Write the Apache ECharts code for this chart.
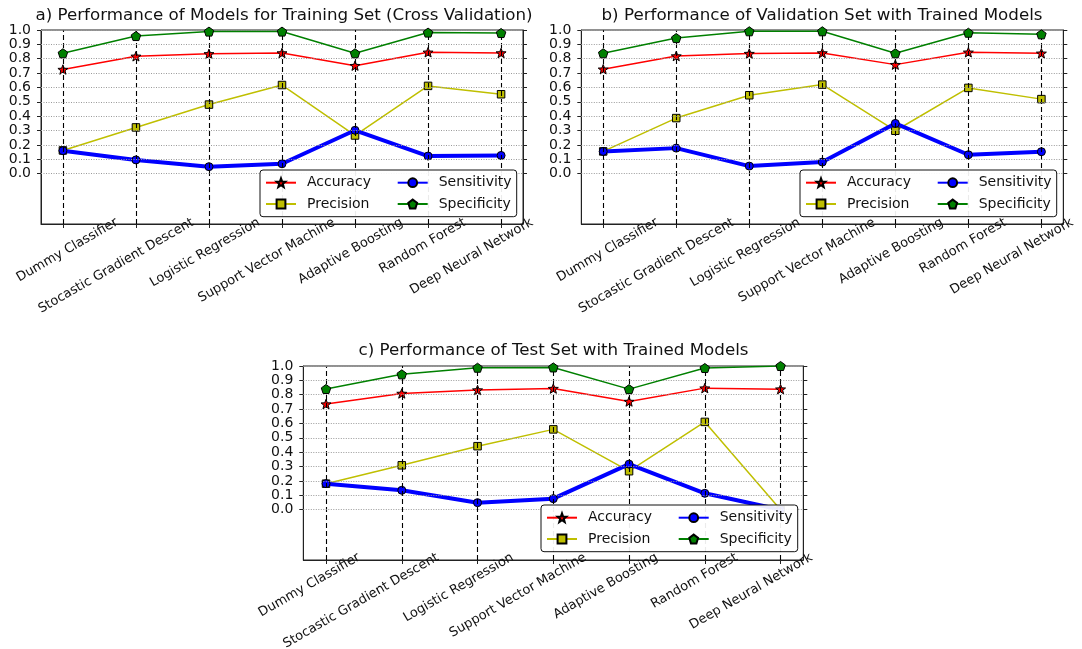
<!DOCTYPE html>
<html>
<head>
<meta charset="utf-8">
<script src="https://cdn.jsdelivr.net/npm/echarts@6/dist/echarts.min.js"></script>
<style>
  html, body { margin: 0; padding: 0; background: #fff; }
  #chart { width: 1082px; height: 649px; }
</style>
</head>
<body>
<div id="chart"></div>
<script>
// ---------------- DATA ----------------
const categories = ['Dummy Classifier', 'Stocastic Gradient Descent', 'Logistic Regression',
  'Support Vector Machine', 'Adaptive Boosting', 'Random Forest', 'Deep Neural Network'];
const seriesNames = ['Accuracy', 'Precision', 'Sensitivity', 'Specificity'];
const yTicks = [0.0, 0.1, 0.2, 0.3, 0.4, 0.5, 0.6, 0.7, 0.8, 0.9, 1.0];
const xTicks = [0, 1, 2, 3, 4, 5, 6];

const titleA = 'a) Performance of Models for Training Set (Cross Validation)';
const titleB = 'b) Performance of Validation Set with Trained Models';
const titleC = 'c) Performance of Test Set with Trained Models';

const trainAcc  = [0.725, 0.817, 0.834, 0.840, 0.752, 0.845, 0.840];
const trainPrec = [0.162, 0.322, 0.481, 0.617, 0.266, 0.611, 0.553];
const trainSens = [0.160, 0.096, 0.049, 0.069, 0.302, 0.123, 0.127];
const trainSpec = [0.838, 0.958, 0.989, 0.989, 0.838, 0.982, 0.979];

const valAcc  = [0.727, 0.819, 0.836, 0.840, 0.759, 0.845, 0.838];
const valPrec = [0.155, 0.387, 0.546, 0.620, 0.299, 0.597, 0.519];
const valSens = [0.155, 0.178, 0.053, 0.081, 0.350, 0.132, 0.153];
const valSpec = [0.838, 0.944, 0.991, 0.991, 0.838, 0.981, 0.970];

const testAcc  = [0.735, 0.809, 0.833, 0.843, 0.753, 0.846, 0.839];
const testPrec = [0.181, 0.309, 0.442, 0.559, 0.268, 0.611, 0.000];
const testSens = [0.181, 0.135, 0.049, 0.077, 0.317, 0.114, 0.000];
const testSpec = [0.840, 0.942, 0.988, 0.990, 0.839, 0.986, 1.000];

// ---------------- STYLE / LAYOUT ----------------
const FONT = 'DejaVu Sans';
const starPath = 'path://M0,-1 L0.247,-0.34 L0.951,-0.309 L0.399,0.13 L0.588,0.809 L0,0.42 L-0.588,0.809 L-0.399,0.13 L-0.951,-0.309 L-0.247,-0.34 Z';
const pentPath = 'path://M0,-1 L0.951,-0.309 L0.588,0.809 L-0.588,0.809 L-0.951,-0.309 Z';
const styles = {
  Accuracy:    { color: '#ff0000', width: 1.5, symbol: starPath, size: 10 },
  Precision:   { color: '#bfbf00', width: 1.5, symbol: 'rect',   size: 7.5 },
  Sensitivity: { color: '#0000ff', width: 4,   symbol: 'circle', size: 8 },
  Specificity: { color: '#008000', width: 1.5, symbol: pentPath, size: 9.5 }
};

// horizontal shift (px) of each tick label's end, right of its tick
const labelShiftAB = [54, 57, 50, 52, 47, 37, 31];
const labelShiftC  = [33, 36, 35, 32, 28, 32, 31];

const panels = [
  { title: titleA, values: [trainAcc, trainPrec, trainSens, trainSpec],
    grid: { left: 41, top: 30, width: 482, height: 194 },
    legend: { left: 260, top: 170 }, titleX: 279, titleTop: 2, shifts: labelShiftAB, margin: -2.5 },
  { title: titleB, values: [valAcc, valPrec, valSens, valSpec],
    grid: { left: 581.3, top: 30, width: 482, height: 194 },
    legend: { left: 800, top: 170 }, titleX: 817, titleTop: 2, shifts: labelShiftAB, margin: -2.5 },
  { title: titleC, values: [testAcc, testPrec, testSens, testSpec],
    grid: { left: 303.3, top: 366, width: 500, height: 194 },
    legend: { left: 541, top: 505 }, titleX: 548.5, titleTop: 337, shifts: labelShiftC, margin: -3.5 }
];

const option = {
  animation: false,
  backgroundColor: '#ffffff',
  title: [], grid: [], xAxis: [], yAxis: [], legend: [], series: []
};

const legendItem = {
  z: 20, itemWidth: 30, itemHeight: 11, itemGap: 7.3, selectedMode: false,
  textStyle: { fontFamily: FONT, fontSize: 14, color: '#111', lineHeight: 14, width: 80, padding: [0, 0, 0, 6] }
};

panels.forEach((p, i) => {
  option.title.push({
    text: p.title, left: p.titleX, top: p.titleTop, textAlign: 'center',
    textStyle: { fontFamily: FONT, fontSize: 16.7, fontWeight: 'normal', color: '#111' }
  });
  option.grid.push(Object.assign({ show: true, borderColor: '#222', borderWidth: 1,
    backgroundColor: 'transparent', containLabel: false, outerBoundsMode: 'none' }, p.grid));
  const rich = {};
  p.shifts.forEach((d, k) => {
    rich['l' + k] = { fontFamily: FONT, fontSize: 13, color: '#111',
      padding: [d, -0.866 * d, 0, 0] };
  });
  option.xAxis.push({
    type: 'value', gridIndex: i, min: -0.3, max: 6.3,
    axisLine: { show: true, onZero: false, lineStyle: { color: '#222', width: 1 } },
    axisTick: { show: true, customValues: xTicks, length: 4, lineStyle: { color: '#222' } },
    axisLabel: {
      customValues: xTicks, rotate: 30, margin: p.margin,
      fontFamily: FONT, fontSize: 13, color: '#111',
      formatter: v => { const k = Math.round(v); return '{l' + k + '|' + categories[k] + '}'; },
      rich: rich
    },
    splitLine: { show: false }
  });
  // left axis
  option.yAxis.push({
    type: 'value', gridIndex: i, min: -0.35, max: 1.0, position: 'left',
    axisLine: { show: true, onZero: false, lineStyle: { color: '#222', width: 1 } },
    axisTick: { show: true, customValues: yTicks, length: 4, lineStyle: { color: '#222' } },
    axisLabel: { customValues: yTicks, formatter: v => v.toFixed(1), margin: 10,
      fontFamily: FONT, fontSize: 14, color: '#111' },
    splitLine: { show: false }
  });
  // right axis (ticks only)
  option.yAxis.push({
    type: 'value', gridIndex: i, min: -0.35, max: 1.0, position: 'right',
    axisLine: { show: true, onZero: false, lineStyle: { color: '#222', width: 1 } },
    axisTick: { show: true, customValues: yTicks, length: 4, lineStyle: { color: '#222' } },
    axisLabel: { show: false },
    splitLine: { show: false }
  });
  // grid lines via markLine (behind data)
  option.series.push({
    type: 'line', xAxisIndex: i, yAxisIndex: 2 * i, z: 1, silent: true,
    data: [[0, 0]], showSymbol: false, symbol: 'none', lineStyle: { opacity: 0 },
    markLine: {
      silent: true, symbol: ['none', 'none'], label: { show: false }, animation: false,
      data: xTicks.map(x => ({ xAxis: x, lineStyle: { type: [5, 3], color: '#000', width: 1.1 } }))
        .concat(yTicks.map(y => ({ yAxis: y, lineStyle: { type: [1, 1.5], color: '#9a9a9a', width: 1 } })))
    }
  });
  seriesNames.forEach((name, k) => {
    const s = styles[name];
    option.series.push({
      name: name, type: 'line', xAxisIndex: i, yAxisIndex: 2 * i, z: 2 + k,
      data: p.values[k].map((v, idx) => [xTicks[idx], v]),
      symbol: s.symbol, symbolSize: s.size, symbolKeepAspect: true, showSymbol: true,
      lineStyle: { color: s.color, width: s.width },
      itemStyle: { color: s.color, borderColor: '#000', borderWidth: 1 },
      emphasis: { disabled: true }
    });
  });
  option.legend.push(Object.assign({}, legendItem, {
    data: ['Accuracy', 'Precision'], orient: 'vertical',
    left: p.legend.left, top: p.legend.top,
    padding: [5.7, 129.7, 5.7, 5],
    backgroundColor: 'rgba(255,255,255,0.92)', borderColor: '#111', borderWidth: 1, borderRadius: 3
  }));
  option.legend.push(Object.assign({}, legendItem, {
    z: 21,
    data: ['Sensitivity', 'Specificity'], orient: 'vertical',
    left: p.legend.left + 136.7, top: p.legend.top + 5.7, padding: 0
  }));
});

const chart = echarts.init(document.getElementById('chart'), null, { renderer: 'canvas' });
chart.setOption(option);
</script>
</body>
</html>
